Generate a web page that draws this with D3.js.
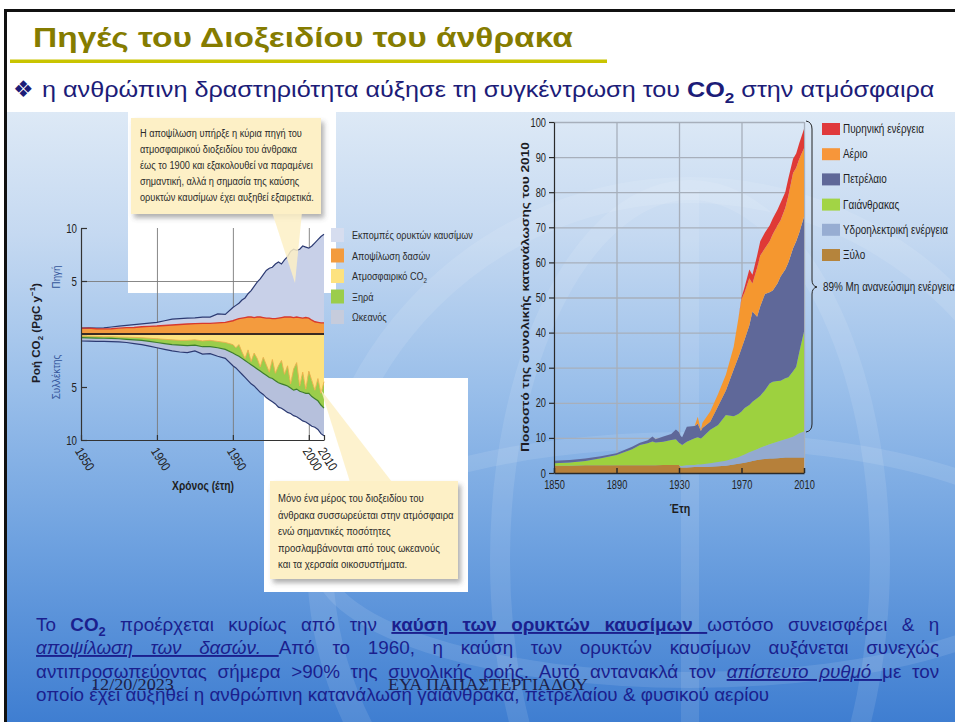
<!DOCTYPE html>
<html>
<head>
<meta charset="utf-8">
<script src="https://cdn.jsdelivr.net/npm/d3@7"></script>
<style>
  html, body { margin: 0; padding: 0; background: #fff; }
  svg { display: block; }
</style>
</head>
<body>
<svg id="slide" width="955" height="722"></svg>
<script>
// ---------------- Carbon flux budget (PgC per year) ----------------
const fluxYears = [1850,1855,1860,1865,1870,1875,1880,1885,1890,1895,1900,1905,1910,1915,1920,1925,1930,1935,1940,1945,1950,
  1952,1954,1956,1958,1960,1962,1964,1966,1968,1970,1972,1974,1976,1978,1980,1982,1984,1986,1988,1990,1992,1994,1996,1998,2000,2002,2004,2006,2008,2010];
const fossilEmissions = [0.01,0.03,0.05,0.10,0.16,0.19,0.22,0.26,0.27,0.30,0.35,0.45,0.55,0.55,0.55,0.54,0.60,0.60,0.85,0.75,1.25,
  1.35,1.45,1.70,1.85,2.20,2.50,2.95,3.30,3.60,4.05,4.50,4.70,4.85,5.15,5.30,5.05,5.40,5.70,6.20,6.45,6.30,6.45,6.80,6.65,6.60,7.00,7.45,7.80,8.15,8.35];
const landUseChange = [0.55,0.55,0.50,0.48,0.50,0.55,0.60,0.62,0.68,0.72,0.75,0.80,0.85,0.90,0.95,0.98,1.00,1.00,1.05,1.10,1.25,
  1.35,1.45,1.50,1.55,1.60,1.60,1.55,1.60,1.60,1.55,1.50,1.50,1.45,1.45,1.50,1.55,1.60,1.60,1.60,1.55,1.60,1.55,1.50,1.55,1.50,1.30,1.15,1.10,1.05,1.05];
const atmosphericCO2 = [0.20,0.20,0.22,0.25,0.25,0.28,0.30,0.32,0.35,0.40,0.45,0.50,0.55,0.60,0.60,0.55,0.65,0.60,0.70,0.80,1.00,
  1.30,1.00,1.70,2.30,1.50,2.60,1.80,2.30,3.10,2.20,2.90,3.60,2.40,3.70,3.00,2.50,3.80,3.00,4.70,3.30,2.70,4.90,3.60,5.20,3.50,4.40,5.30,4.20,5.60,4.50];
const landSink = [0.15,0.16,0.16,0.15,0.17,0.17,0.20,0.23,0.25,0.30,0.35,0.40,0.45,0.45,0.50,0.50,0.55,0.60,0.60,0.65,0.80,
  0.65,1.10,0.60,0.20,1.20,0.30,1.30,1.00,0.40,1.50,1.00,0.50,1.80,0.70,1.60,2.20,1.00,1.90,0.40,2.00,2.50,0.50,1.90,0.40,2.10,1.50,0.80,2.10,1.10,2.50];
const oceanSink = [0.31,0.32,0.32,0.30,0.30,0.30,0.30,0.35,0.40,0.45,0.50,0.55,0.60,0.65,0.66,0.55,0.70,0.65,0.80,0.85,1.20,
  1.25,1.40,1.50,1.60,1.70,1.80,1.80,1.90,2.00,2.00,2.10,2.10,2.20,2.20,2.30,2.30,2.40,2.50,2.40,2.40,2.60,2.60,2.70,2.70,2.90,2.80,2.70,2.70,2.70,2.60];
const fluxTickYears = [1850, 1900, 1950, 2000, 2010];
const fluxTickValues = [10, 5, 0, -5, -10];
const fluxLegend = ["Εκπομπές ορυκτών καυσίμων", "Αποψίλωση δασών", "Ατμοσφαιρικό CO", "Ξηρά", "Ωκεανός"];

// ---------------- Share of 2010 energy consumption (%) ----------------
const energyYears = [1850,1860,1870,1880,1890,1900,1905,1910,1913,1915,1920,1925,1928,1930,1931,1932,1935,1940,1942,1944,1945,
  1950,1955,1960,1965,1968,1970,1972,1975,1977,1980,1982,1985,1988,1990,1993,1995,1998,2000,2003,2005,2007,2010];
const wood = [2.1,2.1,2.2,2.2,2.2,2.2,2.2,2.2,2.2,2.2,2.3,2.3,2.3,2.3,1.6,1.6,1.6,1.7,1.7,1.7,1.7,
  1.8,1.9,2.1,2.4,2.6,2.75,2.9,3.2,3.4,3.7,3.85,4.0,4.1,4.1,4.2,4.3,4.4,4.4,4.4,4.4,4.4,4.4];
const hydro = [0,0,0,0,0,0,0,0,0,0,0,0,0,0,0.4,0.4,0.6,0.6,0.7,0.75,0.8,
  0.95,1.2,1.4,1.7,1.9,2.15,2.4,2.7,2.9,3.1,3.35,3.7,4.1,4.4,4.7,4.9,5.2,5.5,5.9,6.4,6.9,7.4];
const coal = [0.65,0.9,1.2,2.0,2.9,4.6,5.8,6.3,6.8,6.5,6.6,7.1,7.3,6.3,6.3,6.0,6.7,7.6,7.8,7.35,7.7,
  9.55,10.6,13.0,12.1,12.3,12.6,13.2,13.5,14.0,14.5,14.8,15.9,17.3,17.5,17.3,17.1,17.4,17.4,18.7,19.5,23.2,28.5];
const oil = [0.75,0.7,0.7,0.6,0.5,0.7,0.6,0.8,1.4,0.9,1.5,1.7,2.8,3.0,2.3,2.2,4.3,3.5,3.8,2.2,2.6,
  2.3,5.3,7.0,13.3,16.2,18.0,19.5,22.6,25.7,23.2,25.5,27.4,26.0,26.0,27.8,29.7,31.0,32.7,35.0,35.7,34.0,32.7];
const gas = [0,0,0,0,0,0,0,0,0,0,0,0,0,0,0,0,0,0,2.0,0.3,1.5,
  2.9,3.5,4.5,6.5,11,14,13.5,13.5,8,14,14.5,13,14.5,16,16.5,16,17.5,19,21.5,21,21,19.5];
const nuclear = [0,0,0,0,0,0,0,0,0,0,0,0,0,0,0,0,0,0,0,0,0,
  0,0,0,0,0,0.5,1.5,2.5,2.5,3.5,4,4.5,4.5,4.5,4.5,5,4.5,5,4,4,4.5,5.5];
const energyTickYears = [1850, 1890, 1930, 1970, 2010];
const energyTickValues = [0,10,20,30,40,50,60,70,80,90,100];
const energyLegend = ["Πυρηνική ενέργεια", "Αέριο", "Πετρέλαιο", "Γαιάνθρακας", "Υδροηλεκτρική ενέργεια", "Ξύλο"];

// ---------------- helpers ----------------
const SANS = "'Liberation Sans', Arial, sans-serif";
const SERIF = "'Liberation Serif', 'Times New Roman', serif";
const svg = d3.select("#slide");
const defs = svg.append("defs");

// text with optional rich segments, horizontal condensing and justification
function rich(parent, x, y, segs, o = {}) {
  const g = parent.append("g").attr("transform", `translate(${x},${y})` + (o.rotate ? ` rotate(${o.rotate})` : ""));
  const size = o.size || 12;
  const t = g.append("text")
    .attr("font-family", o.family || SANS).attr("font-size", size)
    .attr("font-weight", o.weight || "normal").attr("fill", o.fill || "#222")
    .attr("text-anchor", o.anchor || "start");
  if (o.italic) t.attr("font-style", "italic");
  if (typeof segs === "string") segs = [{ t: segs }];
  let shift = 0;
  segs.forEach(s => {
    const sp = t.append("tspan").text(s.t);
    const want = s.sub ? size * 0.28 : s.sup ? -size * 0.4 : 0;
    if (want !== shift) { sp.attr("dy", want - shift); shift = want; }
    if (s.sub || s.sup) sp.attr("font-size", size * 0.68);
    if (s.b) sp.attr("font-weight", "bold");
    if (s.i) sp.attr("font-style", "italic");
    if (s.u) sp.attr("text-decoration", "underline");
  });
  const natural = t.node().getComputedTextLength();
  let sx = o.sx || 1;
  if (o.width) sx = o.width / natural;
  if (o.justify) {
    const spaces = segs.map(s => s.t).join("").split(" ").length - 1;
    const local = o.justify / sx;
    if (spaces > 0) t.attr("word-spacing", (local - natural) / spaces);
  }
  if (sx !== 1) t.attr("transform", `scale(${sx},1)`);
  return { t, natural, sx };
}
function naturalWidth(str, size, weight, family) {
  const t = svg.append("text").attr("font-family", family || SANS).attr("font-size", size)
    .attr("font-weight", weight || "normal").text(str);
  const w = t.node().getComputedTextLength();
  t.remove();
  return w;
}
function condenseAxis(g, sx, size, fill) {
  g.selectAll(".tick text").attr("font-family", SANS).attr("font-size", size).attr("fill", fill || "#222")
    .each(function () {
      const s = d3.select(this);
      const x = +s.attr("x") || 0;
      s.attr("x", x / sx).attr("transform", `scale(${sx},1)`);
    });
}

// ---------------- slide background ----------------
svg.append("rect").attr("width", 955).attr("height", 722).attr("fill", "#fff");
const grad = defs.append("linearGradient").attr("id", "panelGrad").attr("x1", 0).attr("x2", 0).attr("y1", 0).attr("y2", 1);
grad.selectAll("stop").data([[0, "#dde9f6"], [0.2, "#c5d9f1"], [0.45, "#9abfea"], [0.7, "#6fa2e0"], [1, "#3f7ed1"]])
  .join("stop").attr("offset", d => d[0]).attr("stop-color", d => d[1]);
defs.append("clipPath").attr("id", "panelClip").append("rect").attr("x", 7).attr("y", 112).attr("width", 948).attr("height", 610);
svg.append("rect").attr("x", 7).attr("y", 112).attr("width", 948).attr("height", 610).attr("fill", "url(#panelGrad)");

// faint globe drawn behind the charts
const globe = svg.append("g").attr("clip-path", "url(#panelClip)").attr("fill", "none").attr("stroke", "#ffffff").attr("stroke-opacity", 0.1);
globe.append("circle").attr("cx", 690).attr("cy", 560).attr("r", 370).attr("stroke-width", 26);
globe.append("ellipse").attr("cx", 690).attr("cy", 560).attr("rx", 190).attr("ry", 370).attr("stroke-width", 20);
globe.append("line").attr("x1", 690).attr("x2", 690).attr("y1", 190).attr("y2", 722).attr("stroke-width", 18);
globe.append("ellipse").attr("cx", 690).attr("cy", 560).attr("rx", 370).attr("ry", 120).attr("stroke-width", 16);

// slide frame
svg.append("rect").attr("x", 4).attr("y", 9).attr("width", 951).attr("height", 3).attr("fill", "#111");
svg.append("rect").attr("x", 4).attr("y", 9).attr("width", 3).attr("height", 713).attr("fill", "#111");

// title and bullet line
rich(svg, 33, 47, "Πηγές του Διοξειδίου του άνθρακα", { size: 28, weight: "bold", fill: "#857c00", width: 540 });
svg.append("rect").attr("x", 10).attr("y", 59.5).attr("width", 597).attr("height", 3.5).attr("fill", "#c9c400");
rich(svg, 13, 97, "❖", { size: 23, fill: "#1c1c78", family: "'DejaVu Sans', sans-serif" });
rich(svg, 42, 97, [
  { t: "η ανθρώπινη δραστηριότητα αύξησε τη συγκέντρωση του " },
  { t: "CO", b: 1 }, { t: "2", b: 1, sub: 1 },
  { t: " στην ατμόσφαιρα" }
], { size: 22.5, fill: "#1c1c78", width: 893 });

// ---------------- left figure: carbon flux budget ----------------
const L = svg.append("g");
L.append("rect").attr("x", 128).attr("y", 112).attr("width", 208).attr("height", 181).attr("fill", "#fff");
L.append("rect").attr("x", 264).attr("y", 378).attr("width", 204).attr("height", 214).attr("fill", "#fff");

const fx = d3.scaleLinear().domain([1850, 2010]).range([81, 324]);
const fy = d3.scaleLinear().domain([-10, 10]).range([440, 228]);

// grid
L.append("g").attr("transform", "translate(0,440)")
  .call(d3.axisBottom(fx).tickValues([1900, 1950, 2000]).tickSize(-(440 - 228)).tickFormat(""))
  .call(g => g.select(".domain").remove())
  .call(g => g.selectAll("line").attr("stroke", "#7a7a7a").attr("stroke-width", 0.9));
L.append("g").attr("transform", "translate(81,0)")
  .call(d3.axisRight(fy).tickValues([5]).tickSize(324 - 81).tickFormat(""))
  .call(g => g.select(".domain").remove())
  .call(g => g.selectAll("line").attr("stroke", "#7a7a7a").attr("stroke-width", 0.9));

const fluxRows = fluxYears.map((yr, i) => ({
  year: yr,
  land_use: landUseChange[i], fossil: fossilEmissions[i],
  atmos: -atmosphericCO2[i], land: -landSink[i], ocean: -oceanSink[i]
}));
const fluxKeys = ["land_use", "fossil", "atmos", "land", "ocean"];
const fluxStack = d3.stack().keys(fluxKeys).offset(d3.stackOffsetDiverging)(fluxRows);
const fluxFill = { land_use: "#f39b3e", fossil: "#c8d0e8", atmos: "#fde27f", land: "#9bcd4b", ocean: "#b6c0dc" };
const fArea = d3.area().x(d => fx(d.data.year)).y0(d => fy(d[0])).y1(d => fy(d[1]));
L.append("g").selectAll("path").data(fluxStack).join("path")
  .attr("d", fArea).attr("fill", d => fluxFill[d.key]);
const byKey = Object.fromEntries(fluxStack.map(s => [s.key, s]));
const topLine = d3.line().x(d => fx(d.data.year)).y(d => fy(d[1]));
const botLine = d3.line().x(d => fx(d.data.year)).y(d => fy(d[0]));
L.append("path").attr("d", botLine(byKey.atmos)).attr("fill", "none").attr("stroke", "#f0b04a").attr("stroke-width", 0.9);
L.append("path").attr("d", topLine(byKey.fossil)).attr("fill", "none").attr("stroke", "#2c3a72").attr("stroke-width", 1.2);
L.append("path").attr("d", topLine(byKey.land_use)).attr("fill", "none").attr("stroke", "#d8392c").attr("stroke-width", 1.4);
L.append("path").attr("d", botLine(byKey.land)).attr("fill", "none").attr("stroke", "#3d7d2c").attr("stroke-width", 1.2);
L.append("path").attr("d", botLine(byKey.ocean)).attr("fill", "none").attr("stroke", "#2c3a72").attr("stroke-width", 1.2);

// zero line
L.append("line").attr("x1", fx(1850)).attr("x2", fx(2010)).attr("y1", fy(0)).attr("y2", fy(0))
  .attr("stroke", "#3a2a22").attr("stroke-width", 2);

// axes
const fyAxis = L.append("g").attr("transform", "translate(81,0)")
  .call(d3.axisLeft(fy).tickValues(fluxTickValues).tickFormat(d => d === 0 ? "" : Math.abs(d))
    .tickSizeInner(-6).tickSizeOuter(0).tickPadding(4));
fyAxis.selectAll("path,line").attr("stroke", "#333").attr("stroke-width", 1.2);
condenseAxis(fyAxis, 0.78, 12.5, "#222");

const fxAxis = L.append("g").attr("transform", "translate(0,440)")
  .call(d3.axisBottom(fx).tickValues(fluxTickYears).tickFormat(d3.format("d")).tickSizeInner(-5).tickSizeOuter(0));
fxAxis.selectAll("path,line").attr("stroke", "#333").attr("stroke-width", 1.2);
fxAxis.selectAll(".tick text").attr("font-family", SANS).attr("font-size", 13).attr("fill", "#222")
  .attr("x", 0).attr("y", 0).attr("dy", null).attr("text-anchor", "start")
  .attr("transform", "translate(-7,11) rotate(58) scale(0.85,1)");

rich(L, 203, 490, "Χρόνος (έτη)", { size: 12.5, weight: "bold", anchor: "middle", fill: "#1e1e1e", sx: 0.82 });
rich(L, 40, 333, [{ t: "Ροή CO", b: 1 }, { t: "2", b: 1, sub: 1 }, { t: " (PgC y", b: 1 }, { t: "−1", b: 1, sup: 1 }, { t: ")", b: 1 }],
  { size: 11.5, anchor: "middle", rotate: -90, fill: "#1c1c28", width: 100 });
rich(L, 60, 277, "Πηγή", { size: 11.5, anchor: "middle", rotate: -90, fill: "#33559a", sx: 0.85 });
rich(L, 60, 377, "Συλλέκτης", { size: 11.5, anchor: "middle", rotate: -90, fill: "#33559a", sx: 0.85 });

// legend
const fluxLegendColors = ["#d6ddef", "#f39b3e", "#fde27f", "#9bcd4b", "#c6ccdc"];
const legK = 121 / naturalWidth(fluxLegend[0], 11.5);
fluxLegend.forEach((name, i) => {
  const cy = 235 + i * 20.5;
  L.append("rect").attr("x", 331).attr("y", cy - 7).attr("width", 13).attr("height", 14).attr("fill", fluxLegendColors[i]);
  const segs = i === 2 ? [{ t: name }, { t: "2", sub: 1 }] : [{ t: name }];
  rich(L, 352, cy + 4, segs, { size: 11.5, fill: "#2a2a2a", sx: legK });
});

// callouts
const shadow = defs.append("filter").attr("id", "softShadow").attr("x", "-10%").attr("y", "-10%").attr("width", "130%").attr("height", "140%");
shadow.append("feDropShadow").attr("dx", 3).attr("dy", 4).attr("stdDeviation", 2.5).attr("flood-color", "#555").attr("flood-opacity", 0.45);
const CALLOUT = "#fdf0c6";

L.append("rect").attr("x", 131).attr("y", 118).attr("width", 190).attr("height", 96).attr("fill", CALLOUT).attr("filter", "url(#softShadow)");
L.append("path").attr("d", "M272,212 L302,212 L295,283 Z").attr("fill", CALLOUT).attr("fill-opacity", 0.85);
const topNote = [
  "Η αποψίλωση υπήρξε η κύρια πηγή του",
  "ατμοσφαιρικού διοξειδίου του άνθρακα",
  "έως το 1900 και εξακολουθεί να παραμένει",
  "σημαντική, αλλά η σημασία της καύσης",
  "ορυκτών καυσίμων έχει αυξηθεί εξαιρετικά."
];
const topK = 174 / naturalWidth(topNote[4], 11.5);
topNote.forEach((s, i) => rich(L, 140, 137 + i * 16, s, { size: 11.5, fill: "#2b2b2b", sx: topK }));

L.append("rect").attr("x", 270).attr("y", 481).attr("width", 188).attr("height", 98).attr("fill", CALLOUT).attr("filter", "url(#softShadow)");
L.append("path").attr("d", "M321,390 L392,482 L350,482 Z").attr("fill", CALLOUT).attr("fill-opacity", 0.85);
const botNote = [
  "Μόνο ένα μέρος του διοξειδίου του",
  "άνθρακα συσσωρεύεται στην ατμόσφαιρα",
  "ενώ σημαντικές ποσότητες",
  "προσλαμβάνονται από τους ωκεανούς",
  "και τα χερσαία οικοσυστήματα."
];
const botK = 176 / naturalWidth(botNote[1], 11.5);
botNote.forEach((s, i) => rich(L, 278, 502 + i * 16.6, s, { size: 11.5, fill: "#2b2b2b", sx: botK }));

// ---------------- right figure: energy consumption shares ----------------
const R = svg.append("g");
const ex = d3.scaleLinear().domain([1850, 2010]).range([554, 804]);
const ey = d3.scaleLinear().domain([0, 100]).range([473, 122]);

R.append("g").attr("transform", "translate(554,0)")
  .call(d3.axisRight(ey).tickValues(energyTickValues.slice(1)).tickSize(804 - 554).tickFormat(""))
  .call(g => g.select(".domain").remove())
  .call(g => g.selectAll("line").attr("stroke", "#a7afbb").attr("stroke-width", 1.3));
R.append("g").attr("transform", "translate(0,473)")
  .call(d3.axisBottom(ex).tickValues(energyTickYears.slice(1)).tickSize(-(473 - 122)).tickFormat(""))
  .call(g => g.select(".domain").remove())
  .call(g => g.selectAll("line").attr("stroke", "#a7afbb").attr("stroke-width", 1.3));

const energyRows = energyYears.map((yr, i) => ({
  year: yr, wood: wood[i], hydro: hydro[i], coal: coal[i], oil: oil[i], gas: gas[i], nuclear: nuclear[i]
}));
const energyKeys = ["wood", "hydro", "coal", "oil", "gas", "nuclear"];
const energyFill = { wood: "#b6803a", hydro: "#93aad0", coal: "#9dd13f", oil: "#5f6899", gas: "#f5972f", nuclear: "#df3a36" };
const energyStack = d3.stack().keys(energyKeys)(energyRows);
const eArea = d3.area().x(d => ex(d.data.year)).y0(d => ey(d[0])).y1(d => ey(d[1]));
R.append("g").selectAll("path").data(energyStack).join("path")
  .attr("d", eArea).attr("fill", d => energyFill[d.key]);

const eyAxis = R.append("g").attr("transform", "translate(554,0)")
  .call(d3.axisLeft(ey).tickValues(energyTickValues).tickSizeInner(5).tickSizeOuter(0).tickPadding(3));
eyAxis.selectAll("path,line").attr("stroke", "#2a2a2a").attr("stroke-width", 1.2);
condenseAxis(eyAxis, 0.74, 12.5, "#222");
const exAxis = R.append("g").attr("transform", "translate(0,473)")
  .call(d3.axisBottom(ex).tickValues(energyTickYears).tickFormat(d3.format("d")).tickSizeInner(-5).tickSizeOuter(0).tickPadding(7));
exAxis.selectAll("path,line").attr("stroke", "#2a2a2a").attr("stroke-width", 1.5);
condenseAxis(exAxis, 0.74, 12.5, "#222");

rich(R, 680, 513, "Έτη", { size: 12.5, weight: "bold", anchor: "middle", fill: "#1e1e1e", sx: 0.85 });
rich(R, 529, 297, "Ποσοστό της συνολικής κατανάλωσης του 2010",
  { size: 11.5, weight: "bold", anchor: "middle", rotate: -90, fill: "#1c1c24", width: 310 });

// legend
const energyLegendColors = ["#e0393c", "#f7963a", "#5f6898", "#a2d445", "#97add2", "#b5843c"];
const eLegK = 105 / naturalWidth(energyLegend[4], 12);
energyLegend.forEach((name, i) => {
  const cy = 129 + i * 25.2;
  R.append("rect").attr("x", 822).attr("y", cy - 6).attr("width", 18).attr("height", 12).attr("fill", energyLegendColors[i]);
  rich(R, 843, cy + 4, name, { size: 12, fill: "#1e1e1e", sx: eLegK });
});
rich(R, 823, 291, "89% Μη ανανεώσιμη ενέργεια", { size: 12, fill: "#1e1e1e", sx: eLegK });

// brace grouping the non-renewable share
R.append("path")
  .attr("d", "M806,121 Q812,122 812,129 L812,280 Q812,286 817,287 Q812,288 812,294 L812,424 Q812,431 806,432")
  .attr("fill", "none").attr("stroke", "#222").attr("stroke-width", 1);

// ---------------- text below the figures ----------------
const paraLines = [
  [{ t: "Το " }, { t: "CO", b: 1 }, { t: "2", b: 1, sub: 1 }, { t: " προέρχεται κυρίως από την " },
   { t: "καύση των ορυκτών καυσίμων ", b: 1, u: 1 }, { t: "ωστόσο συνεισφέρει & η" }],
  [{ t: "αποψίλωση των δασών. ", i: 1, u: 1 }, { t: "Από το 1960, η καύση των ορυκτών καυσίμων αυξάνεται συνεχώς" }],
  [{ t: "αντιπροσωπεύοντας σήμερα >90% της συνολικής ροής. Αυτό αντανακλά τον " }, { t: "απίστευτο ρυθμό ", i: 1, u: 1 }, { t: "με τον" }],
  [{ t: "οποίο έχει αυξηθεί η ανθρώπινη κατανάλωση γαιάνθρακα, πετρελαίου & φυσικού αερίου" }]
];
const paraSize = 19;
const paraK = 734 / naturalWidth(paraLines[3][0].t, paraSize);
const paraY = [631, 654, 678, 701];
paraLines.forEach((segs, i) => {
  rich(svg, 36, paraY[i], segs, { size: paraSize, fill: "#1b1f8e", sx: paraK, justify: i < 3 ? 904 : null });
});

// footer
rich(svg, 91, 690, "12/20/2023", { size: 17, family: SERIF, fill: "#1d2148", width: 83 });
rich(svg, 388, 690, "ΕΥΑ ΠΑΠΑΣΤΕΡΓΙΑΔΟΥ", { size: 17, family: SERIF, fill: "#1d2148", width: 200 });
</script>
</body>
</html>
